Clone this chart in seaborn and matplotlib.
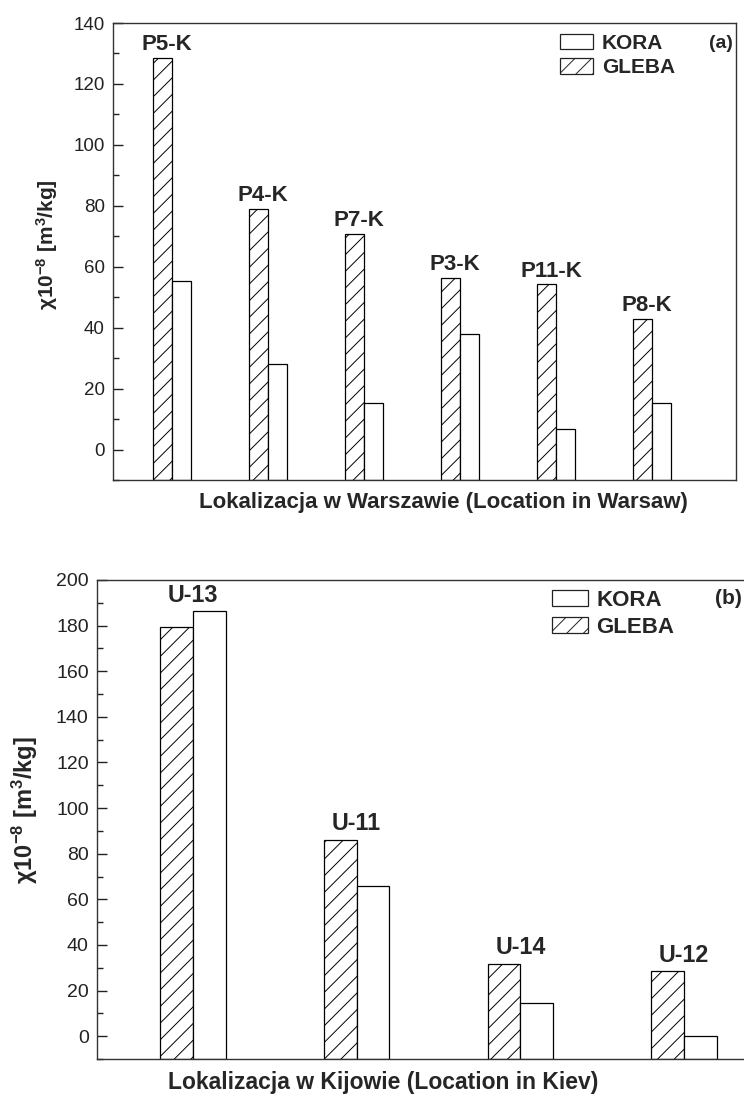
import matplotlib
matplotlib.use('Agg')
import matplotlib.pyplot as plt
from matplotlib.patches import Patch
from matplotlib.ticker import MultipleLocator
import pandas as pd
import seaborn as sns

# (a) Warsaw sites
warsaw_sites = ['P5-K', 'P4-K', 'P7-K', 'P3-K', 'P11-K', 'P8-K']
warsaw_gleba = [128.5, 79.0, 70.7, 56.3, 54.2, 42.8]
warsaw_kora = [55.4, 28.1, 15.4, 37.9, 6.6, 15.3]

# (b) Kiev sites
kiev_sites = ['U-13', 'U-11', 'U-14', 'U-12']
kiev_gleba = [179.4, 85.9, 31.8, 28.4]
kiev_kora = [186.2, 65.9, 14.7, 0.3]

sns.set_theme(style='ticks')
plt.rcParams['font.family'] = ['Liberation Sans', 'DejaVu Sans']
plt.rcParams['mathtext.fontset'] = 'custom'
plt.rcParams['mathtext.rm'] = 'Liberation Sans'
plt.rcParams['mathtext.bf'] = 'Liberation Sans:bold'
plt.rcParams['mathtext.default'] = 'bf'
plt.rcParams['hatch.linewidth'] = 0.7
plt.rcParams['hatch.color'] = '#222222'

W, H = 744, 1095


def long_table(sites, gleba, kora):
    return pd.DataFrame({
        'site': sites * 2,
        'typ': ['GLEBA'] * len(sites) + ['KORA'] * len(sites),
        'chi': list(gleba) + list(kora),
    })


def draw_panel(ax, sites, gleba, kora, ylim, xlim, sizes, label_dx, label_dy,
               xlab, xlab_pos, ylab_pos):
    fs_lab, fs_x, fs_y, fs_tick = sizes
    df = long_table(sites, gleba, kora)
    sns.barplot(data=df, x='site', y='chi', hue='typ', hue_order=['GLEBA', 'KORA'],
                palette=['white', 'white'], saturation=1, edgecolor='black',
                linewidth=0.9, width=0.4, gap=0, errorbar=None, legend=False, ax=ax)
    # hatch the soil bars, and start all bars at the bottom of the axis (Origin style)
    for bar in ax.containers[0]:
        bar.set_hatch('//')
    for bar in ax.patches:
        h = bar.get_height()
        bar.set_y(ylim[0])
        bar.set_height(h - ylim[0])

    ax.set_ylim(*ylim)
    ax.set_xlim(*xlim)
    ax.yaxis.set_major_locator(MultipleLocator(20))
    ax.yaxis.set_minor_locator(MultipleLocator(10))
    ax.tick_params(axis='y', which='major', direction='in', length=7, width=1,
                   labelsize=fs_tick, pad=6, colors='#222222')
    ax.tick_params(axis='y', which='minor', direction='in', length=4, width=1, color='#222222')
    ax.tick_params(axis='x', bottom=False, labelbottom=False)
    for s in ax.spines.values():
        s.set_color('#333333')
        s.set_linewidth(1.0)

    for i, site in enumerate(sites):
        top = max(gleba[i], kora[i])
        ax.annotate(site, xy=(i + label_dx, top), xytext=(0, label_dy), textcoords='offset points',
                    ha='center', va='bottom', fontsize=fs_lab, fontweight='bold')

    ax.set_xlabel(xlab, fontsize=fs_x, fontweight='bold')
    ax.xaxis.set_label_coords(*xlab_pos)
    ax.set_ylabel('χ10$^{-8}$ [m$^{3}$/kg]', fontsize=fs_y, fontweight='bold')
    ax.yaxis.set_label_coords(*ylab_pos)


fig = plt.figure(figsize=(W / 100, H / 100), dpi=100)

ax1 = fig.add_axes([113 / W, 1 - 480 / H, 623 / W, 457 / H])
draw_panel(ax1, warsaw_sites, warsaw_gleba, warsaw_kora, (-10, 140), (-0.615, 5.875),
           (16, 16, 15, 13.5), -0.05, 2, 'Lokalizacja w Warszawie (Location in Warsaw)',
           (0.53, -0.026), (-0.085, 0.516))

ax2 = fig.add_axes([97 / W, 1 - 1059 / H, 664 / W, 479 / H])
draw_panel(ax2, kiev_sites, kiev_gleba, kiev_kora, (-10, 200), (-0.586, 3.47),
           (16.8, 16.5, 17, 14), 0.0, 3.5, 'Lokalizacja w Kijowie (Location in Kiev)',
           (0.431, -0.025), (-0.086, 0.52))

handles = [Patch(facecolor='white', edgecolor='#222222', linewidth=0.9, label='KORA'),
           Patch(facecolor='white', edgecolor='#222222', linewidth=0.9, hatch='//', label='GLEBA')]
for ax, x0, y0, fs in [(ax1, 560, 34, 15), (ax2, 552, 590, 16)]:
    ax.legend(handles=handles, loc='upper left', bbox_to_anchor=(x0 / W, 1 - y0 / H),
              bbox_transform=fig.transFigure, frameon=False, borderpad=0, borderaxespad=0,
              handlelength=1.6, handleheight=0.75, handletextpad=0.4, labelspacing=0.25,
              prop={'weight': 'bold', 'size': fs})

fig.text(733 / W, 1 - 43 / H, '(a)', ha='right', va='center', fontsize=14, fontweight='bold')
fig.text(742 / W, 1 - 599 / H, '(b)', ha='right', va='center', fontsize=15, fontweight='bold')

fig.savefig('out.png', dpi=100)
